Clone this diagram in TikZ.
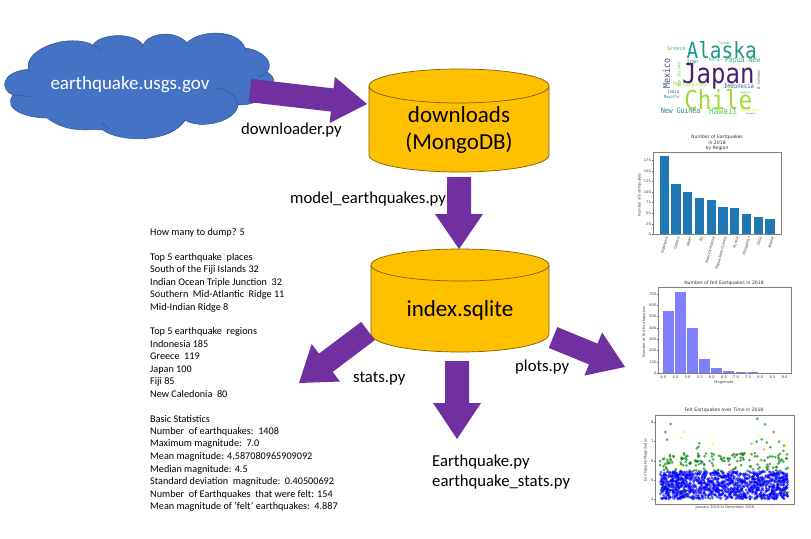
\documentclass[tikz,border=0pt]{standalone}
\usepackage{fontspec}
\setmainfont{Carlito}
\newfontfamily\dv{DejaVu Sans}
\newfontfamily\dvm{DejaVu Sans Mono}
\usetikzlibrary{calc}
\definecolor{cloudblue}{HTML}{4472C4}
\definecolor{cloudedge}{HTML}{2F528F}
\definecolor{cylfill}{HTML}{FFC000}
\definecolor{cyledge}{HTML}{7F6000}
\definecolor{arrowpurple}{HTML}{7030A0}
\definecolor{barblue}{HTML}{1F77B4}
\newcommand\fsz[1]{\fontsize{#1}{#1}\selectfont}
% block arrow: start, tip, shaft width, head width, head length
\newcommand\blockarrow[5]{%
  \coordinate (hb) at ($(#2)!#5pt!(#1)$);
  \fill[arrowpurple]
    ($(#1)!#3/2!90:(#2)$) -- ($(hb)!#3/2!90:(#2)$) -- ($(hb)!#4/2!90:(#2)$) -- (#2)
    -- ($(hb)!#4/2!-90:(#2)$) -- ($(hb)!#3/2!-90:(#2)$) -- ($(#1)!#3/2!-90:(#2)$) -- cycle;}
% cylinder: left x, right x, top y, side top y, side bottom y, bottom y
\newcommand\database[6]{%
  \pgfmathsetmacro\rx{(#2-#1)/2}
  \pgfmathsetmacro\ry{#4-#3}
  \draw[fill=cylfill,draw=cyledge,line width=.7pt]
    (#1,#4) -- (#1,#5) arc[start angle=180,end angle=360,x radius=\rx,y radius=-\ry*(#6-#5)/(#4-#3)] -- (#2,#4)
    arc[start angle=0,end angle=180,x radius=\rx,y radius=-\ry] -- cycle;
  \draw[cyledge,line width=.7pt] (#1,#4) arc[start angle=180,end angle=360,x radius=\rx,y radius=-\ry];}
\tikzset{
  label text/.style={font=\fsz{16.7},text=black,inner sep=0pt,anchor=base west},
  db text/.style={font=\fsz{23},text=black,inner sep=0pt,anchor=base},
  tick text/.style={font=\dv\fsz{3.6},text=black!75,inner sep=0pt},
  chart title/.style={font=\dv\fsz{4.6},text=black!80,inner sep=0pt},
  axes box/.style={draw=black!50,line width=.7pt},
  dump line/.style={font=\fsz{10.2},text=black,inner sep=0pt,anchor=base west},
}
\begin{document}
\begin{tikzpicture}[x=1pt,y=-1pt]
\useasboundingbox (0,0) rectangle (811,538);
\fill[white] (0,0) rectangle (811,538);
% cloud
\draw[fill=cloudblue,draw=cloudedge,line width=.5pt]
  (28.3,69.3) .. controls (24,48) and (70,33) .. (93,45)
  .. controls (100,33) and (135,32) .. (143,45)
  .. controls (148,33) and (175,29) .. (187,43)
  .. controls (198,30) and (238,28) .. (245,48)
  .. controls (262,50) and (275,62) .. (267,72)
  .. controls (285,82) and (265,106) .. (238,105)
  .. controls (236,122) and (200,130) .. (185,120)
  .. controls (172,143) and (120,143) .. (103,130)
  .. controls (90,128) and (70,135) .. (47,118)
  .. controls (28,118) and (2,110) .. (13,95)
  .. controls (0,90) and (0,72) .. (28.3,69.3) -- cycle;
\draw[cloudedge,line width=.5pt]
  (28.3,69.3) .. controls (28.5,71) and (29,72) .. (30,73)
  (93,45) .. controls (96,46) and (98,48) .. (100,50)
  (143,45) .. controls (142.5,46) and (142,46) .. (141.5,47)
  (187,43) .. controls (186.5,44) and (186,44) .. (185,45)
  (245,48) .. controls (245.5,49) and (246,50) .. (247,52)
  (267,72) .. controls (265,74) and (262,76) .. (258,77)
  (217,88) .. controls (228,90) and (238,96) .. (238,105)
  (185,120) .. controls (184.5,122) and (184,122) .. (182,123)
  (102,122) .. controls (104,125) and (106,127) .. (109,129)
  (13,95) .. controls (20,96) and (27,96) .. (33,96.5);
\node[font=\fsz{19},text=white,inner sep=0pt,anchor=base] (cloudlabel) at (130,89) {earthquake.usgs.gov};
% databases
\database{369}{549}{69}{86}{155}{172}
\node[db text] (downloads) at (459,122) {downloads};
\node[db text] (mongodb) at (459,149) {(MongoDB)};
\database{371}{549}{249}{265}{334}{352}
\node[db text] (indexdb) at (460,316) {index.sqlite};
% block arrows
\coordinate (a1s) at (250,90.5); \coordinate (a1e) at (367,104);
\coordinate (a2s) at (459,177);  \coordinate (a2e) at (459,249);
\coordinate (a3s) at (368,331);  \coordinate (a3e) at (299,383);
\coordinate (a4s) at (553,337.5);\coordinate (a4e) at (625,367);
\coordinate (a5s) at (457,361);  \coordinate (a5e) at (457,439);
\blockarrow{a1s}{a1e}{23.3pt}{46.4pt}{35}
\blockarrow{a2s}{a2e}{24pt}{48pt}{35}
\blockarrow{a3s}{a3e}{22.8pt}{47pt}{33.6}
\blockarrow{a4s}{a4e}{22.5pt}{46.6pt}{34.3}
\blockarrow{a5s}{a5e}{24pt}{48pt}{36}
% labels
\node[label text] (ldownloader) at (241,134) {downloader.py};
\node[label text] (lmodel) at (290,203) {model\_earthquakes.py};
\node[label text] (lstats) at (353,382) {stats.py};
\node[label text] (lplots) at (515,371) {plots.py};
\node[label text] (lquake) at (432,466) {Earthquake.py};
\node[label text] (lquakestats) at (432,486) {earthquake\_stats.py};
% stats dump
\foreach \Y/\T in {
 235.5/How many to dump? 5,
 260.5/Top 5 earthquake\ \ places,
 272.5/South of the Fiji Islands 32,
 285.5/Indian Ocean Triple Junction\ \ 32,
 297.5/Southern\ \ Mid-Atlantic\ \ Ridge 11,
 310.5/Mid-Indian Ridge 8,
 334.5/Top 5 earthquake\ \ regions,
 347.5/Indonesia 185,
 359.5/Greece\ \ 119,
 372.5/Japan 100,
 384.5/Fiji 85,
 397.5/New Caledonia\ \ 80,
 422.5/Basic Statistics,
 434.5/Number\ \ of earthquakes:\ \ 1408,
 446.5/Maximum magnitude:\ \ 7.0,
 459.5/Mean magnitude: 4.587080965909092,
 472.5/Median magnitude: 4.5,
 484.5/Standard deviation\ \ magnitude:\ \ 0.40500692,
 497.5/Number\ \ of Earthquakes\ \ that were felt: 154,
 509.5/Mean magnitude of 'felt' earthquakes:\ \ 4.887}{
  \node[dump line] at (150,\Y) {\T};
}
% word cloud
\begin{scope}[shift={(640,30)},x=0.3333pt,y=-0.3333pt]
\foreach \w/\X/\Y/\s/\c/\r in {
  Japan/235/138/24/481F70/0, Alaska/245/60/19.4/1F968B/0, Chile/235/210/22.6/A0DA39/0,
  Mexico/80/130/8.3/3E4A89/90, Hawaii/250/243/7.8/5EC962/0, Indonesia/297/168/5.5/31688E/0,
  New Guinea/122/242/6.5/26828E/0, Papua New/308/93/6.5/35B779/0, Philippines/150/165/5.2/A5DB36/0,
  Greece/110/56/5/4AC16D/0, Peru/222/90/4.2/35B779/0, Iran/157/96/4.6/2A788E/0,
  New Zealand/116/133/3.8/7AD151/90, Taiwan/253/40/3.4/4AC16D/0, India/100/186/3.8/3B528B/0,
  Mayotte/95/203/3.6/2C728E/0, Costa Rica/330/242/3.1/E5E419/0, El Salvador/356/150/3/414487/90,
  Turkey/265/169/1.8/3B528B/0, Argentina/317/188/1.8/26828E/0, Guatemala/332/252/1.8/2C728E/0}{
  \definecolor{wc}{HTML}{\c}
  \node[inner sep=0pt,text=wc,rotate=\r,yscale=1.15,transform shape,font=\dvm\fsz{\s}] at (\X,\Y) {\w};
}
\end{scope}
% bar chart
\begin{scope}
\clip (620,125) rectangle (811,272);
\node[chart title] (bt1) at (717,137.3) {Number of Eartquakes};
\node[chart title] (bt2) at (717,143) {in 2018};
\node[chart title] (bt3) at (717,148.5) {by Region};
\foreach \n/\v/\l in {0/185/Indonesia,1/119/Greece,2/100/Japan,3/85/Fiji,4/80/New Caledonia,5/65/Papua New Guinea,6/63/Russia,7/47/Philippines,8/41/Chile,9/35/Alaska}{
  \pgfmathsetmacro\bx{664.3+\n*11.75}
  \fill[barblue] (\bx-4.6,234.3) rectangle (\bx+4.6,234.3-\v*0.423);
  \node[tick text,rotate=75,anchor=north east] at (\bx+.8,236.2) {\l};
}
\foreach \t in {0,25,...,175}{
  \node[tick text,anchor=east] at (651,234.3-\t*0.423) {\t};
  \draw[black!60,line width=.3pt] (651.6,234.3-\t*0.423) -- (653,234.3-\t*0.423);
}
\node[tick text,rotate=90,anchor=center] (bylabel) at (639.5,195) {Number of Earthquakes};
\draw[axes box] (653,152) rectangle (781,234.3);
\end{scope}
% histogram
\node[chart title] (ht) at (724,283.2) {Number of felt Eartquakes in 2018};
\foreach \n/\v in {0/550,1/720,2/400,3/120,4/45,5/22,6/5,7/5}{
  \pgfmathsetmacro\bx{668.5+\n*12.05}
  \fill[blue!50] (\bx-5.3,373) rectangle (\bx+5.3,373-\v*0.113);
}
\foreach \t in {0,100,...,700}{
  \node[tick text,anchor=east] at (656.5,373-\t*0.113) {\t};
  \draw[black!60,line width=.3pt] (656.8,373-\t*0.113) -- (658,373-\t*0.113);
}
\foreach \n/\t in {0/4.0,1/4.5,2/5.0,3/5.5,4/6.0,5/6.5,6/7.0,7/7.5,8/8.0,9/8.5,10/9.0}{
  \pgfmathsetmacro\tx{663.3+\n*12.13}
  \node[tick text] at (\tx,377.5) {\t};
}
\node[tick text] (hxlabel) at (724,382.8) {Magnitude};
\node[tick text,rotate=90] (hylabel) at (644,332) {Number of Felt Earthquakes};
\draw[axes box] (658,287.3) rectangle (791,373);
% scatter
\node[chart title] (st) at (724,410) {Felt Eartquakes over Time in 2018};
\pgfmathsetseed{4242}
\foreach \i in {1,...,150}{
  \pgfmathsetmacro\px{660+rnd*128}
  \pgfmathsetmacro\py{471-rnd*18}
  \fill[green!50!black,opacity=.65] (\px,\py) circle[radius=1.5];
}
\foreach \X/\Y in {76/96,92/72,81/119,352/56,375/73,417/125,350/125,365/118,380/128,391/142,432/137,178/130,175/140,170/145,215/160,305/160,430/152,440/175,90/165,100/168}{
  \fill[green!50!black,opacity=.65] (640+\X/3,400+\Y/3) circle[radius=1.5];
}
\foreach \i in {1,...,1300}{
  \pgfmathsetmacro\px{660+rnd*128}
  \pgfmathsetmacro\py{499-rnd*27.5}
  \fill[blue,opacity=.6] (\px,\py) circle[radius=1.5];
}
\foreach \i in {1,...,14}{
  \pgfmathsetmacro\px{660+rnd*128}
  \pgfmathsetmacro\py{499-rnd*18}
  \fill[green!50!black,opacity=.75] (\px,\py) circle[radius=1.5];
}
\foreach \X/\Y/\c in {123/114/yellow,133/96/yellow,218/131/yellow,355/107/yellow,325/159/yellow,437/137/yellow,115/196/yellow,360/183/yellow,334/131/orange,372/148/orange,401/96/red,273/212/red,182/183/blue}{
  \fill[\c,opacity=.6] (640+\X/3,400+\Y/3) circle[radius=1.5];
}
\foreach \t/\Y in {4/499,5/480,6/461,7/441,8/422}{
  \node[tick text,anchor=east] at (653.5,\Y) {\t};
  \draw[black!60,line width=.3pt] (654,\Y) -- (655,\Y);
}
\node[tick text] (sxlabel) at (725,507.3) {January 2018 to December 2018};
\node[tick text,rotate=90] (sylabel) at (645.5,460) {Earthquake Magnitudes};
\draw[axes box] (655,415) rectangle (794,504);
\end{tikzpicture}
\end{document}
